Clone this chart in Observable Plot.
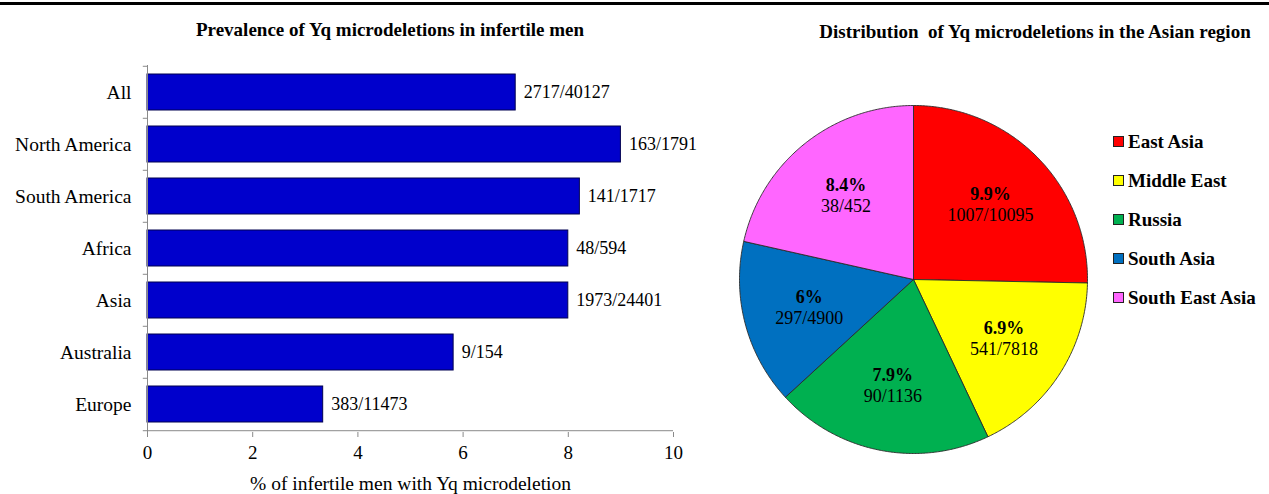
<!DOCTYPE html>
<html><head><meta charset="utf-8">
<script src="https://cdn.jsdelivr.net/npm/d3@7"></script>
<script src="https://cdn.jsdelivr.net/npm/@observablehq/plot@0.6"></script>
<style>
body{margin:0;background:#fff;width:1269px;height:494px;position:relative;overflow:hidden;font-family:"Liberation Serif","Times New Roman",serif;color:#000;}
.rule{position:absolute;left:0;top:2px;width:1269px;height:3px;background:#000;}
.title{position:absolute;font-weight:bold;font-size:19px;white-space:nowrap;transform:translate(-50%,-50%);}
#bar{position:absolute;left:0;top:0;}
#pie{position:absolute;left:733px;top:99px;}
#legend{position:absolute;left:1113px;top:122px;}
#legend .item{display:flex;align-items:center;height:39px;font-weight:bold;font-size:19px;white-space:nowrap;}
#legend .sw{width:9px;height:9px;border:1px solid #222;margin-right:4px;}
</style></head><body>
<div class="rule"></div>
<div class="title" style="left:390px;top:30px">Prevalence of Yq microdeletions in infertile men</div>
<div class="title" style="left:1035px;top:32px">Distribution&nbsp; of Yq microdeletions in the Asian region</div>
<div id="bar"></div>
<div id="pie"></div>
<div id="legend"></div>
<script>
// ---- Bar chart data ----
const regions = ["All", "North America", "South America", "Africa", "Asia", "Australia", "Europe"];
const prevalence = [7.0, 9.0, 8.22, 8.0, 8.0, 5.82, 3.34];
const counts = ["2717/40127", "163/1791", "141/1717", "48/594", "1973/24401", "9/154", "383/11473"];
const xTicks = [0, 2, 4, 6, 8, 10];
const xLabel = "% of infertile men with Yq microdeletion";

// ---- Pie chart data ----
const asiaRegions = ["East Asia", "Middle East", "Russia", "South Asia", "South East Asia"];
const asiaPercent = [9.9, 6.9, 7.9, 6, 8.4];
const asiaCounts = ["1007/10095", "541/7818", "90/1136", "297/4900", "38/452"];
const asiaColors = ["#ff0000", "#ffff00", "#00b050", "#0070c0", "#ff66ff"];

const FONT = '"Liberation Serif","Times New Roman",serif';
const GRAY = "#8a8a8a";

// Bar chart
const barData = regions.map((r, i) => ({region: r, value: prevalence[i], label: counts[i]}));
const H = 494, mTop = 65, mBottom = 62;
const step = (H - mTop - mBottom) / regions.length;
const bar = Plot.plot({
  width: 720, height: H,
  marginLeft: 147, marginRight: 47, marginTop: mTop, marginBottom: mBottom,
  style: {fontFamily: FONT, fontSize: "19px", color: "#000", background: "transparent", overflow: "visible"},
  x: {domain: [0, 10]},
  y: {domain: regions, paddingInner: 0.3, paddingOuter: 0.15},
  marks: [
    Plot.barX(barData, {x: "value", y: "region", fill: "#0000cc", stroke: "#000050", strokeWidth: 1}),
    Plot.text(barData, {x: "value", y: "region", text: "label", dx: 8, textAnchor: "start", fontSize: 18, fill: "#000"}),
    Plot.ruleX([0], {stroke: GRAY}),
    Plot.ruleY([regions[regions.length - 1]], {x1: 0, x2: 10, dy: step / 2, stroke: GRAY}),
    Plot.ruleY(regions, {y: d => d, x1: -0.08, x2: 0, dy: -step / 2, stroke: GRAY}),
    Plot.ruleY([regions[regions.length - 1]], {x1: -0.08, x2: 0, dy: step / 2, stroke: GRAY}),
    Plot.axisX({ticks: xTicks, tickSize: 5, tickPadding: 8, label: null, fontSize: 19, stroke: GRAY}),
    Plot.axisY({tickSize: 0, tickPadding: 16, label: null, fontSize: 19.5}),
    Plot.text([xLabel], {text: d => d, frameAnchor: "bottom", dy: 57, fontSize: 19.5, fill: "#000"})
  ]
});
document.getElementById("bar").append(bar);

// Pie chart
const asiaData = asiaRegions.map((r, i) => ({name: r, pct: asiaPercent[i], count: asiaCounts[i]}));
const arcs = d3.pie().sort(null).value(d => d.pct)(asiaData);
const piePts = [];
for (const a of arcs) {
  piePts.push({name: a.data.name, x: 0, y: 0});
  const n = Math.max(2, Math.ceil((a.endAngle - a.startAngle) / (Math.PI / 360)));
  for (let k = 0; k <= n; k++) {
    const t = a.startAngle + (a.endAngle - a.startAngle) * k / n;
    piePts.push({name: a.data.name, x: Math.sin(t), y: Math.cos(t)});
  }
  piePts.push({name: a.data.name, x: 0, y: 0});
}
const LR = 0.62;
const pieLabels = arcs.map(a => {
  const m = (a.startAngle + a.endAngle) / 2;
  return {x: LR * Math.sin(m), y: LR * Math.cos(m), pct: a.data.pct + "%", count: a.data.count};
});
const pie = Plot.plot({
  width: 360, height: 360, margin: 6,
  style: {fontFamily: FONT, fontSize: "18px", color: "#000", background: "transparent", overflow: "visible"},
  x: {domain: [-1, 1], axis: null},
  y: {domain: [-1, 1], axis: null},
  color: {domain: asiaRegions, range: asiaColors},
  marks: [
    Plot.line(piePts, {x: "x", y: "y", z: "name", fill: "name", stroke: "#2a2a2a", strokeWidth: 0.9, curve: "linear-closed"}),
    Plot.text(pieLabels, {x: "x", y: "y", text: "pct", dy: -10, fontWeight: "bold", fontSize: 18, fill: "#000"}),
    Plot.text(pieLabels, {x: "x", y: "y", text: "count", dy: 11, fontSize: 18, fill: "#000"})
  ]
});
document.getElementById("pie").append(pie);

// Legend
const leg = document.getElementById("legend");
asiaRegions.forEach((r, i) => {
  const it = document.createElement("div"); it.className = "item";
  const sw = document.createElement("div"); sw.className = "sw"; sw.style.background = asiaColors[i];
  const tx = document.createElement("span"); tx.textContent = r;
  it.append(sw, tx); leg.append(it);
});
</script>
</body></html>
